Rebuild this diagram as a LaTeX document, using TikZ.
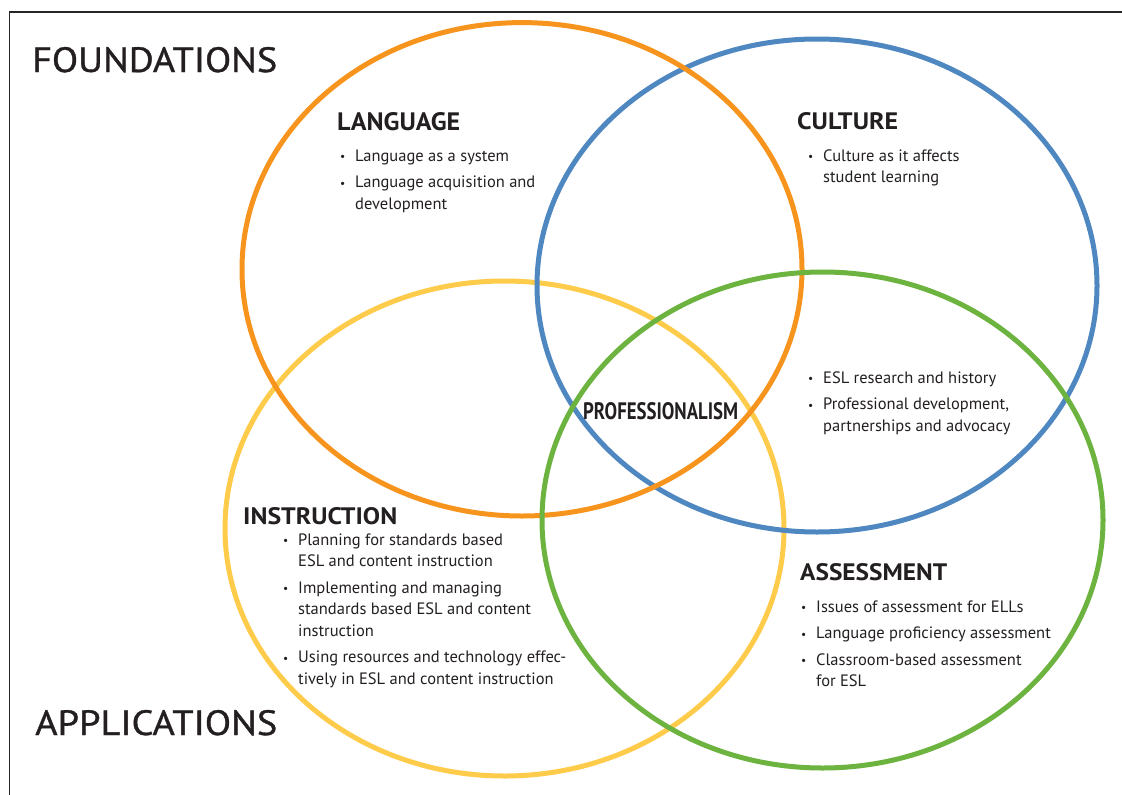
\documentclass[tikz,border=0pt]{standalone}
\usepackage{fontspec}
\usepackage{graphicx}
\setmainfont{PT Sans}
\newfontfamily\titlefont[FakeBold=0.9]{PT Sans}
\definecolor{cOrange}{HTML}{F7941D}
\definecolor{cBlue}{HTML}{4F87C1}
\definecolor{cYellow}{HTML}{FECB4B}
\definecolor{cGreen}{HTML}{6CB33F}
\definecolor{txt}{HTML}{231F20}
\newcommand{\hd}[3]{\resizebox{#1pt}{#2pt}{#3}}
\newcommand{\bul}{\makebox[15pt][l]{\raisebox{0.5pt}{\scalebox{0.7}{\textbullet}}}}
\newcommand{\bitem}[1]{\par\hangindent=15pt\hangafter=1\noindent\bul#1}
\newcommand{\blist}[1]{\vtop{\hsize=400pt\fontsize{16.5}{21.5}\selectfont\parindent=0pt\parskip=5pt\rightskip=0pt plus 1fil\relax #1}}
\begin{document}
\begin{tikzpicture}[x=1pt,y=-1pt,
  ring/.style={line width=5pt},
  head/.style={anchor=base west, inner sep=0pt, text=txt},
  body/.style={anchor=base west, inner sep=0pt, text=txt}]
\useasboundingbox (0,0) rectangle (1122,795);
\draw[line width=1.5pt, black!85] (9.5,795) -- (9.5,12) -- (1122,12);
\draw[ring, cYellow] (504.5,528.5) ellipse [x radius=279.5, y radius=247.5];
\draw[ring, cBlue] (817,285.5) ellipse [x radius=280, y radius=246.5];
\draw[ring, cOrange] (522,269.3) ellipse [x radius=280, y radius=246.7];
\draw[ring, cGreen] (822.5,520) ellipse [x radius=280.5, y radius=248];

\node[head] (found) at (32,72) {\hd{245}{25}{\titlefont FOUNDATIONS}};
\node[head] (appl) at (35,735) {\hd{242}{25}{\titlefont APPLICATIONS}};

\node[head] (lang) at (337,130) {\hd{123}{18}{\bfseries LANGUAGE}};
\node[body] (langb) at (340,161) {\blist{%
  \bitem{Language as a system}
  \bitem{Language acquisition and\newline development}}};

\node[head] (cult) at (797,129) {\hd{101}{17}{\bfseries CULTURE}};
\node[body] (cultb) at (808,161) {\blist{%
  \bitem{Culture as it affects\newline student learning}}};

\node[head] (prof) at (583,419) {\hd{155}{17}{\bfseries PROFESSIONALISM}};
\node[body] (profb) at (808,383) {\blist{%
  \bitem{ESL research and history}
  \bitem{Professional development,\newline partnerships and advocacy}}};

\node[head] (instr) at (243,524) {\hd{154}{17}{\bfseries INSTRUCTION}};
\node[body] (instrb) at (283,545) {\blist{%
  \bitem{Planning for standards based\newline ESL and content instruction}
  \bitem{Implementing and managing\newline standards based ESL and content\newline instruction}
  \bitem{Using resources and technology effec-\newline tively in ESL and content instruction}}};

\node[head] (assess) at (800,580) {\hd{147}{17}{\bfseries ASSESSMENT}};
\node[body] (assessb) at (801,612) {\blist{%
  \bitem{Issues of assessment for ELLs}
  \bitem{Language proficiency assessment}
  \bitem{Classroom-based assessment\newline for ESL}}};
\end{tikzpicture}
\end{document}
